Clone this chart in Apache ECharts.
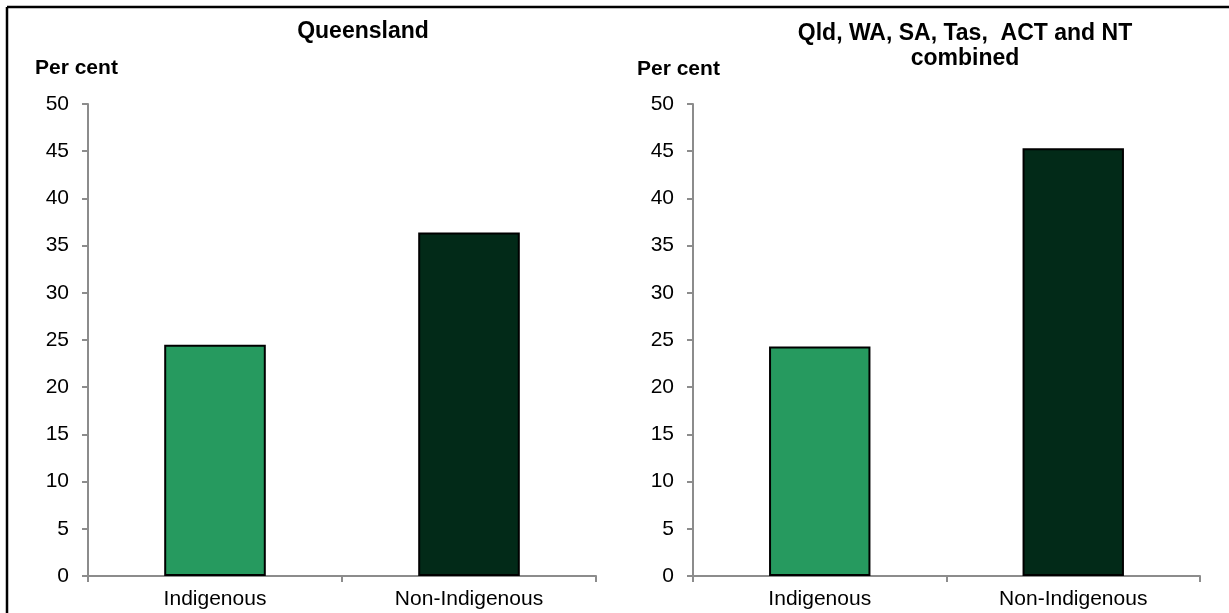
<!DOCTYPE html>
<html>
<head>
<meta charset="UTF-8">
<title>Per cent - Indigenous and Non-Indigenous</title>
<script src="https://cdn.jsdelivr.net/npm/echarts@6/dist/echarts.min.js"></script>
<style>
  html, body { margin: 0; padding: 0; background: #fff; }
  #container { width: 1229px; height: 613px; }
</style>
</head>
<body>
<div id="container"></div>
<script>
// data
var categories = ['Indigenous', 'Non-Indigenous'];
var qldValues = [24.5, 36.4];
var combinedValues = [24.3, 45.3];
var yTicks = [0, 5, 10, 15, 20, 25, 30, 35, 40, 45, 50];
var barColours = ['#269a5f', '#022a18'];

var font = 'Liberation Sans, Arial, sans-serif';

function makeX(idx) {
    return {
        type: 'category',
        gridIndex: idx,
        data: categories,
        axisLine: { lineStyle: { color: '#8c8c8c', width: 2 } },
        axisTick: { show: true, length: 6, lineStyle: { color: '#8c8c8c', width: 2 } },
        axisLabel: { color: '#000', fontSize: 21, fontFamily: font, margin: 13 }
    };
}
function makeY(idx) {
    return {
        type: 'value',
        gridIndex: idx,
        min: yTicks[0],
        max: yTicks[yTicks.length - 1],
        interval: yTicks[1] - yTicks[0],
        splitLine: { show: false },
        axisLine: { show: true, lineStyle: { color: '#8c8c8c', width: 2 } },
        axisTick: { show: true, length: 6, lineStyle: { color: '#8c8c8c', width: 2 } },
        axisLabel: { color: '#000', fontSize: 21, fontFamily: font, margin: 19 }
    };
}
function makeBars(idx, values) {
    return {
        type: 'bar',
        xAxisIndex: idx,
        yAxisIndex: idx,
        barWidth: '40%',
        data: values.map(function (v, i) {
            return { value: v, itemStyle: { color: barColours[i] } };
        }),
        itemStyle: { borderColor: '#000', borderWidth: 2 }
    };
}

var myChart = echarts.init(document.getElementById('container'));
var option = {
    backgroundColor: '#fff',
    animation: false,
    title: [
        {
            text: 'Queensland',
            left: 358, top: 15, textAlign: 'center',
            textStyle: { fontSize: 23, fontWeight: 'bold', color: '#000', fontFamily: font }
        },
        {
            text: 'Qld, WA, SA, Tas,  ACT and NT\ncombined',
            left: 960, top: 16, textAlign: 'center',
            textStyle: { fontSize: 23, fontWeight: 'bold', color: '#000', fontFamily: font, lineHeight: 25, align: 'center' }
        }
    ],
    grid: [
        { left: 88, top: 104, width: 508, height: 472 },
        { left: 693, top: 104, width: 507, height: 472 }
    ],
    xAxis: [makeX(0), makeX(1)],
    yAxis: [makeY(0), makeY(1)],
    series: [makeBars(0, qldValues), makeBars(1, combinedValues)],
    graphic: [
        { type: 'line', shape: { x1: 7, y1: 7, x2: 1229, y2: 7 }, style: { stroke: '#000', lineWidth: 2.5 } },
        { type: 'line', shape: { x1: 7, y1: 7, x2: 7, y2: 613 }, style: { stroke: '#000', lineWidth: 2.5 } },
        { type: 'text', left: 35, top: 58, style: { text: 'Per cent', fill: '#000', font: 'bold 21px ' + font } },
        { type: 'text', left: 637, top: 59, style: { text: 'Per cent', fill: '#000', font: 'bold 21px ' + font } }
    ]
};
myChart.setOption(option, true);
</script>
</body>
</html>
